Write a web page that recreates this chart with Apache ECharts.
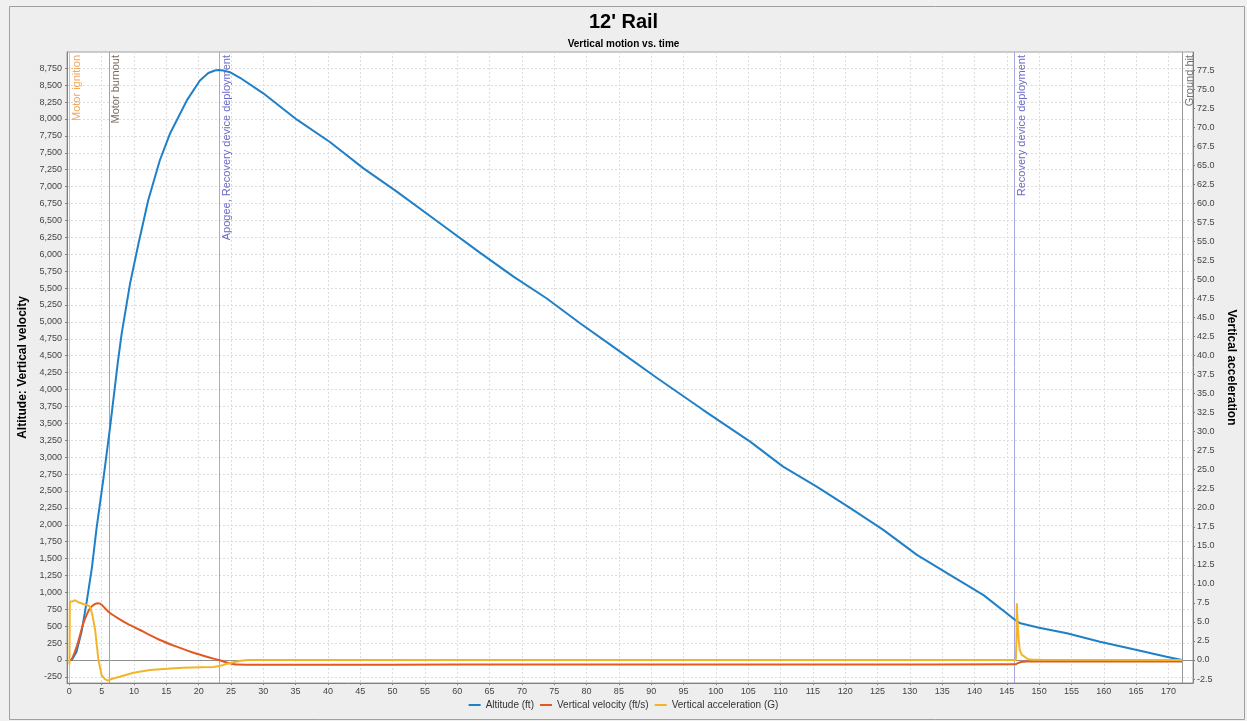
<!DOCTYPE html>
<html>
<head>
<meta charset="utf-8">
<title>12' Rail</title>
<script src="https://cdn.jsdelivr.net/npm/echarts@6/dist/echarts.min.js"></script>
<style>
  html, body { margin: 0; padding: 0; background: #f0f0f0; }
  #chart { width: 1247px; height: 721px; }
</style>
</head>
<body>
<div id="chart"></div>
<script>
// Flight simulation: vertical motion vs. time
const altTime = [0, 0.4, 1.1, 1.9, 2.7, 3.5, 4.2, 5.3, 6.3, 7.5, 8.1, 9.4, 10.7, 12.2, 14.0, 15.6, 18.2, 20.2, 21.5, 22.5, 23.1, 23.8, 24.9, 26.4, 30.0, 35.2, 40.3, 45.5, 50.6, 57.0, 63.5, 68.7, 73.8, 79.0, 84.1, 90.9, 98.0, 105.3, 110.4, 115.6, 120.8, 125.9, 131.1, 136.2, 141.4, 146.3, 147.1, 150.0, 154.3, 159.4, 164.6, 169.7, 172.1];
const altitude = [0, 5, 120, 420, 870, 1370, 1940, 2700, 3440, 4400, 4830, 5570, 6160, 6800, 7390, 7790, 8280, 8570, 8680, 8718, 8725, 8718, 8690, 8610, 8380, 7990, 7660, 7270, 6930, 6480, 6025, 5670, 5350, 4980, 4635, 4170, 3700, 3230, 2860, 2565, 2245, 1925, 1555, 1260, 960, 592, 543, 478, 395, 271, 158, 49, 0];

const velTime = [0, 0.2, 1.14, 2.17, 3.2, 4.0, 4.49, 5.0, 6.03, 7.5, 8.87, 11.45, 14.03, 16.6, 19.2, 21.8, 23.1, 24.5, 25.9, 30, 40, 60, 80, 100, 120, 146.4, 146.7, 147.2, 148, 172.1];
const velocity = [0, 0, 197, 543, 765, 830, 839, 817, 715, 620, 543, 419, 296, 197, 108, 34, 0, -40, -68, -71, -70, -68, -67, -66, -65, -64, -45, -28, -22, -22];

const accTime = [0, 0.02, 0.08, 0.15, 0.5, 0.9, 1.5, 2.2, 2.8, 3.2, 3.6, 4.0, 4.5, 5.0, 5.5, 6.0, 6.5, 7.8, 9.9, 12.5, 15.1, 17.6, 20.2, 22.3, 23.2, 24.3, 25.4, 26.5, 27.7, 146.4, 146.5, 146.55, 146.7, 146.85, 147.0, 147.3, 147.6, 148.3, 149.0, 149.8, 150.0, 150.3, 172.1];
const acceleration = [0, -0.6, 7.7, 7.8, 7.7, 7.85, 7.55, 7.35, 7.2, 7.0, 5.8, 3.9, 0, -2.0, -2.5, -2.7, -2.5, -2.2, -1.67, -1.31, -1.14, -1.01, -0.96, -0.92, -0.8, -0.53, -0.3, -0.1, 0, 0, 3.0, 7.45, 4.5, 2.5, 1.3, 0.7, 0.44, 0.1, 0.02, 0.05, 0.12, 0.02, 0];

// Flight events shown as vertical markers
const eventNames = ['Motor ignition', 'Motor burnout', 'Apogee, Recovery device deployment', 'Recovery device deployment', 'Ground hit'];
const eventTimes = [0, 6.1, 23.15, 146.2, 172.1];

// Axis tick values
const timeTicks = [0, 5, 10, 15, 20, 25, 30, 35, 40, 45, 50, 55, 60, 65, 70, 75, 80, 85, 90, 95, 100, 105, 110, 115, 120, 125, 130, 135, 140, 145, 150, 155, 160, 165, 170];
const leftTicks = [-250, 0, 250, 500, 750, 1000, 1250, 1500, 1750, 2000, 2250, 2500, 2750, 3000, 3250, 3500, 3750, 4000, 4250, 4500, 4750, 5000, 5250, 5500, 5750, 6000, 6250, 6500, 6750, 7000, 7250, 7500, 7750, 8000, 8250, 8500, 8750];
const rightTicks = [-2.5, 0, 2.5, 5, 7.5, 10, 12.5, 15, 17.5, 20, 22.5, 25, 27.5, 30, 32.5, 35, 37.5, 40, 42.5, 45, 47.5, 50, 52.5, 55, 57.5, 60, 62.5, 65, 67.5, 70, 72.5, 75, 77.5];

const FONT = 'Liberation Sans, Arial, sans-serif';
const eventLineColors = ['#f2b872', '#b0a098', '#a8a8e0', '#a8a8e0', '#9a9a9a'];
const eventTextColors = ['#f0a860', '#7a6a60', '#6a6ac8', '#6a6ac8', '#707070'];

const zip = (xs, ys) => xs.map((x, i) => [x, ys[i]]);

const eventMarks = eventNames.map((name, i) => ({
  xAxis: eventTimes[i],
  lineStyle: { color: eventLineColors[i], width: 1, type: 'solid' },
  label: {
    show: true,
    formatter: name,
    position: 'insideEndBottom',
    distance: [3, 2],
    color: eventTextColors[i],
    fontFamily: FONT,
    fontSize: 11
  }
}));

const chart = echarts.init(document.getElementById('chart'), null, { renderer: 'canvas' });

chart.setOption({
  animation: false,
  backgroundColor: '#f0f0f0',
  graphic: {
    elements: [{
      type: 'rect',
      z: -100,
      silent: true,
      shape: { x: 9.5, y: 6.5, width: 1235, height: 713 },
      style: { fill: '#eeeeee', stroke: '#a0a0a0', lineWidth: 1 }
    }]
  },
  title: [
    { text: "12' Rail", left: 'center', top: 7,
      textStyle: { fontFamily: FONT, fontSize: 20, fontWeight: 'bold', color: '#000' } },
    { text: 'Vertical motion vs. time', left: 'center', top: 34,
      textStyle: { fontFamily: FONT, fontSize: 10, fontWeight: 'bold', color: '#000' } }
  ],
  legend: {
    bottom: 6,
    left: 'center',
    itemWidth: 12,
    itemHeight: 2,
    itemGap: 6,
    icon: 'rect',
    textStyle: { fontFamily: FONT, fontSize: 10, color: '#333' },
    data: ['Altitude (ft)', 'Vertical velocity (ft/s)', 'Vertical acceleration (G)']
  },
  grid: {
    left: 67, right: 54, top: 52, bottom: 38,
    show: true, backgroundColor: '#ffffff', borderColor: '#a0a0a0', borderWidth: 1
  },
  xAxis: {
    type: 'value',
    min: -0.36, max: 173.8,
    axisLine: { show: true, onZero: false, lineStyle: { color: '#808080' } },
    axisTick: { show: true, length: 2, lineStyle: { color: '#808080' }, customValues: timeTicks },
    axisLabel: { customValues: timeTicks, margin: 4, fontFamily: FONT, fontSize: 9, color: '#444' },
    splitLine: { show: true, lineStyle: { color: '#dcdcdc', type: [2, 2], width: 1 } }
  },
  yAxis: [
    {
      type: 'value',
      position: 'left',
      min: -340, max: 8991,
      name: 'Altitude: Vertical velocity',
      nameLocation: 'middle',
      nameGap: 33,
      nameTextStyle: { fontFamily: FONT, fontSize: 12, fontWeight: 'bold', color: '#000' },
      axisLine: { show: true, onZero: false, lineStyle: { color: '#808080' } },
      axisTick: { show: true, length: 2, lineStyle: { color: '#808080' }, customValues: leftTicks },
      axisLabel: {
        customValues: leftTicks, margin: 5, fontFamily: FONT, fontSize: 9, color: '#444',
        formatter: v => v.toLocaleString('en-US')
      },
      splitLine: { show: true, lineStyle: { color: '#dcdcdc', type: [2, 2], width: 1 } }
    },
    {
      type: 'value',
      position: 'right',
      min: -3.02, max: 79.87,
      name: 'Vertical acceleration',
      nameLocation: 'middle',
      nameRotate: -90,
      nameGap: 28,
      nameTextStyle: { fontFamily: FONT, fontSize: 12, fontWeight: 'bold', color: '#000' },
      axisLine: { show: true, onZero: false, lineStyle: { color: '#808080' } },
      axisTick: { show: true, length: 2, lineStyle: { color: '#808080' }, customValues: rightTicks },
      axisLabel: {
        customValues: rightTicks, margin: 4, fontFamily: FONT, fontSize: 9, color: '#444',
        formatter: v => v.toFixed(1)
      },
      splitLine: { show: false }
    }
  ],
  series: [
    {
      name: 'Altitude (ft)',
      type: 'line',
      yAxisIndex: 0,
      data: zip(altTime, altitude),
      showSymbol: false,
      color: '#1f80c8',
      lineStyle: { width: 2 },
      z: 3,
      markLine: {
        silent: true,
        symbol: 'none',
        animation: false,
        z: 1,
        data: [
          { yAxis: 0, lineStyle: { color: '#909090', width: 1, type: 'solid' }, label: { show: false } }
        ].concat(eventMarks)
      }
    },
    {
      name: 'Vertical velocity (ft/s)',
      type: 'line',
      yAxisIndex: 0,
      data: zip(velTime, velocity),
      showSymbol: false,
      smooth: 0.2,
      color: '#e05a22',
      lineStyle: { width: 2 },
      z: 4
    },
    {
      name: 'Vertical acceleration (G)',
      type: 'line',
      yAxisIndex: 1,
      data: zip(accTime, acceleration),
      showSymbol: false,
      color: '#f4b42a',
      lineStyle: { width: 2 },
      z: 5
    }
  ]
});
</script>
</body>
</html>
